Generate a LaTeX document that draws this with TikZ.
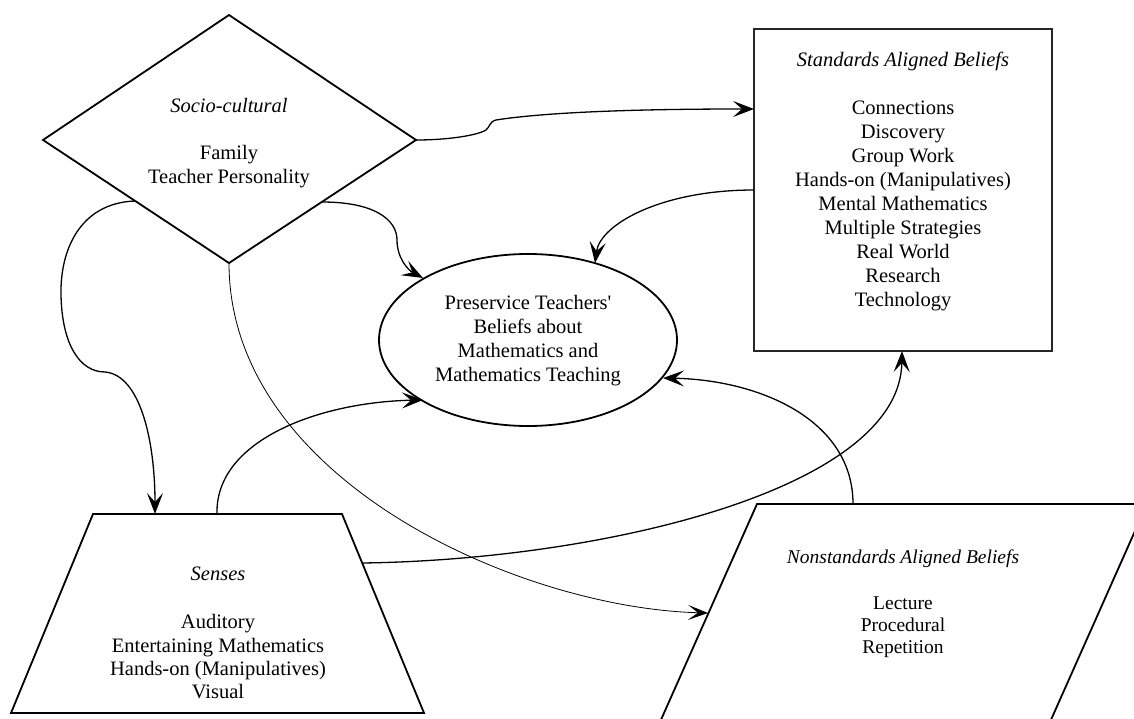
\documentclass[tikz,border=0pt]{standalone}
\usepackage{fontspec}
\setmainfont{Liberation Serif}
\usetikzlibrary{arrows.meta}
\begin{document}
\begin{tikzpicture}[x=1pt,y=-1pt,
  shapeline/.style={line width=1.8pt, line join=miter},
  conn/.style={line width=1.3pt, -{Stealth[length=21pt,width=16pt,inset=9pt]}},
  thinconn/.style={line width=0.8pt, -{Stealth[length=20pt,width=15pt,inset=10pt]}},
  lbl/.style={align=center, inner sep=0pt, font=\fontsize{20.5}{24}\selectfont}]
\useasboundingbox (0,0) rectangle (1134,719);
\begin{scope}
\clip (0,0) rectangle (1134,719);
% shapes
\draw[shapeline] (229,15) -- (416,140) -- (229,263) -- (43,140) -- cycle;
\draw[shapeline, draw=black!85] (754,29) rectangle (1052,351);
\draw[shapeline] (528,340) ellipse [x radius=149, y radius=86];
\draw[shapeline] (93,514) -- (342,514) -- (424,713) -- (11,713) -- cycle;
\draw[shapeline] (757,504) -- (1147,504) -- (1042,740) -- (652,740) -- cycle;
\end{scope}
% labels
\node[lbl] (soc) at (229,143) {\textit{Socio-cultural}\\[23pt]Family\\Teacher Personality};
\node[lbl] (std) at (903,181) {\textit{Standards Aligned Beliefs}\\[24pt]Connections\\Discovery\\Group Work\\Hands-on (Manipulatives)\\Mental Mathematics\\Multiple Strategies\\Real World\\Research\\Technology};
\node[lbl] (pre) at (528,341) {Preservice Teachers\textquotesingle\\Beliefs about\\Mathematics and\\Mathematics Teaching};
\node[lbl, font=\fontsize{20.5}{23.3}\selectfont] (sen) at (218,633) {\textit{Senses}\\[25pt]Auditory\\Entertaining Mathematics\\Hands-on (Manipulatives)\\Visual};
\node[lbl, font=\fontsize{19.5}{22}\selectfont] (non) at (903,604) {\textit{Nonstandards Aligned Beliefs}\\[24pt]Lecture\\Procedural\\Repetition};
% connection points
\coordinate (diaR) at (416,140);
\coordinate (diaB) at (229,263);
\coordinate (diaLL) at (135,201);
\coordinate (diaLR) at (322,202);
\coordinate (stdL1) at (754,109);
\coordinate (stdL2) at (754,190);
\coordinate (stdB) at (902,351);
\coordinate (eTop) at (595,263);
\coordinate (eTL) at (423,278);
\coordinate (eBL) at (423,400);
\coordinate (eR) at (663,378);
\coordinate (senT1) at (155,514);
\coordinate (senT2) at (217,514);
\coordinate (senR) at (362,563);
\coordinate (nonL) at (708,613);
\coordinate (nonT) at (853,504);
% connectors
\draw[conn] (diaR) .. controls (450,140) and (478,135) .. (486,130) .. controls (490,127) and (489,122) .. (496,120) .. controls (560,110) and (680,109) .. (stdL1);
\draw[conn] (stdL2) .. controls (660,190) and (600,225) .. (eTop);
\draw[conn] (diaLR) .. controls (375,202) and (397,220) .. (397,240) .. controls (397,258) and (408,270) .. (eTL);
\draw[conn] (diaLL) .. controls (80,203) and (60,250) .. (61,295) .. controls (62,345) and (80,372) .. (105,372) .. controls (140,375) and (155,440) .. (senT1);
\draw[thinconn] (diaB) .. controls (229,480) and (520,608) .. (nonL);
\draw[conn] (senT2) .. controls (215,440) and (320,402) .. (eBL);
\draw[conn] (senR) .. controls (600,560) and (900,490) .. (stdB);
\draw[conn] (nonT) .. controls (853,420) and (760,380) .. (eR);
\end{tikzpicture}
\end{document}
